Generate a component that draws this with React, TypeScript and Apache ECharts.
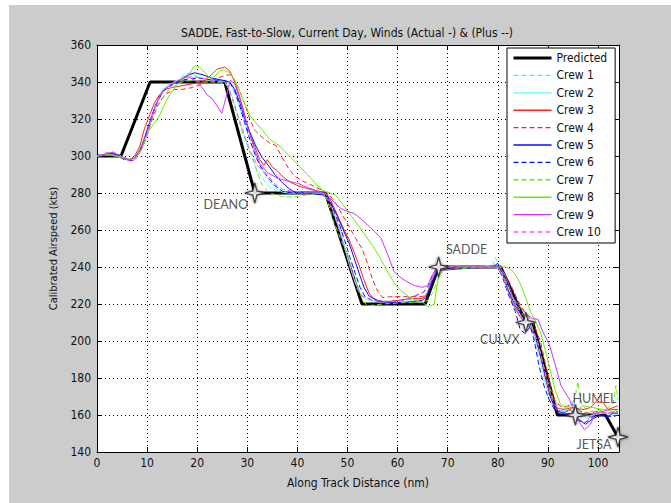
import React, { useEffect, useRef } from "react";
import * as echarts from "echarts";

// ---- texts ----
const TITLE = "SADDE, Fast-to-Slow, Current Day, Winds (Actual -) & (Plus --)";
const X_LABEL = "Along Track Distance (nm)";
const Y_LABEL = "Calibrated Airspeed (kts)";

// ---- axes ----
const X_MIN = 0;
const X_MAX = 104.2;
const X_STEP = 10;
const Y_MIN = 140;
const Y_MAX = 360;
const Y_STEP = 20;

// ---- predicted speed profile ----
const predictedX = [0, 4.8, 10.6, 25.5, 31.5, 45.6, 52.9, 65.5, 68.2, 80.6, 85.6, 87, 91.9, 95.5, 101.5, 104];
const predictedY = [300, 300, 340, 340, 280, 280, 220, 220, 240, 240, 210, 210, 160, 160, 160, 148];

// ---- waypoints ----
const waypointNames = ["DEANO", "SADDE", "CULVX", "HUMEL", "JETSA"];
const waypointX = [31.5, 68.2, 85.6, 95.5, 104];
const waypointY = [280, 240, 210, 160, 148];

// ---- crew runs: [distance, airspeed] ----
const crew1 = [[0,300],[2,300.5],[4,300],[5.5,298.5],[7,297.5],[7.8,299],[9,305],[10,314],[11,323],[12,331],[13,336],[14.5,339],[16,341],[17.5,344],[19,345],[20,343],[22,341],[24,340],[25.5,340],[26.5,336],[27.5,328],[28.5,318],[29.5,310],[30.5,302],[31.5,295],[33,288],[34.5,283],[36,281],[38,280],[42,280],[45,280],[46,279],[47,272],[48,264],[49,256],[50,246],[51,236],[52,228],[53,224],[55,222],[58,221.5],[62,222],[65,223],[66,226],[67,236],[68,239],[70,239],[75,240],[79,241],[79.5,245],[80.5,240],[82,230],[83.5,220],[85,212],[86.5,208],[88,196],[89.5,180],[91,167],[92.5,162],[94,163],[95.5,166],[97,160],[99,160],[101,161],[103,161],[104,161]];
const crew2 = [[0,300],[2,301],[4,300],[5.5,298.5],[7,297.5],[8,300],[9,305],[10,313],[11,322],[12,330],[13,335],[14,338],[15.5,340],[17,342],[18.5,345],[20,343],[22,341],[24,341],[26,340],[27,337],[28,330],[29,322],[30,313],[31,305],[32,298],[33,292],[34.5,286],[36,282],[38,280],[42,280],[45.5,280],[46.5,276],[47.5,268],[48.5,260],[49.5,250],[50.5,240],[51.5,232],[52.5,226],[54,222],[57,221],[61,221],[64,222],[65.5,224],[66.5,230],[67.5,237],[68.5,239],[72,239],[76,240],[79,240],[80.5,239],[81.5,232],[82.5,224],[84,214],[85.5,210],[87,205],[88,194],[89,182],[90,172],[91,165],[92.5,161],[94,163],[95,168],[96,162],[97.5,159],[99,160],[101,161],[103,160],[104,160]];
const crew3 = [[0,300],[2,300.5],[4,300],[5.5,299],[6.5,298],[7.5,300],[8.5,305],[9.5,315],[10.5,322],[11.5,329],[12.5,333],[13.5,336],[15,337],[17,338],[19,339],[21,340],[22.5,343],[24,347],[25.5,348],[26.5,346],[27.5,340],[28.5,332],[29.5,322],[30.5,312],[31.5,305],[32.5,298],[33.3,295],[34,298],[35,294],[36,292],[37,289],[38.5,286],[40,284],[42.5,282],[45,280.5],[46.5,277],[47.5,271],[48.5,265],[49.5,259],[50.3,255],[51.3,248],[52.3,241],[53.3,233],[54.3,226],[55.5,222],[57,221],[60,222],[63,223],[65,223],[66,226],[67,234],[68,239],[71,239],[76,240],[80,240],[81,236],[82,228],[83,220],[84.5,213],[86,209],[87.5,203],[88.5,192],[89.5,180],[90.5,170],[91.5,164],[93,163],[95,164],[97,163],[98.5,164],[99.5,167],[101,167],[102,163],[103,164],[104,165]];
const crew4 = [[0,300],[2,301],[4,300],[5.5,298.5],[7,297.5],[8,300],[9,304],[10,311],[11,320],[12,327],[13,331],[14,334],[15.5,336],[17,336],[19,337],[21,339],[23,341],[25,343],[26.5,344],[27.5,341],[28.5,335],[29.5,328],[30.5,320],[31.5,314],[33,310],[34.5,307],[35.7,305.7],[37,299],[38.3,293],[39.5,289],[41,286.5],[43,284],[44.5,282],[46,280],[47,277],[48,273],[49,268],[50.2,262.5],[51.5,256],[52.9,250],[54,242],[54.9,234],[56,227],[57,223.5],[59,224],[62,224],[65,224],[66,226],[67,233],[68,239],[70,239],[75,240],[80,240],[81,238],[82.5,231],[84,222],[85.5,215],[87,210],[88.5,200],[89.5,188],[90.5,176],[91.5,167],[93,164],[95,166],[96.5,162],[98,161],[100,162],[102,161],[103.5,162],[104,162]];
const crew5 = [[0,300],[2,301],[3,301.5],[4.5,300],[5.5,298.5],[6.5,297.5],[7.5,299],[8.5,303],[9.5,310],[10.5,318],[11.5,326],[12.5,332],[13.5,336],[15,339],[16.5,341],[18,343.5],[19.5,345],[21,344],[23,342],[25,341],[26.5,340],[27.5,336],[28.5,329],[29.5,320],[30.5,313],[31.7,305.4],[33,299],[34.3,294.6],[35.5,290],[37,285.6],[38.5,282],[39.7,280.2],[42,280],[45,279],[46.3,276],[47.7,269.2],[49,261],[50.3,253],[51.3,245],[52.3,236.8],[53.3,229],[54.3,224.3],[56,222],[58.3,220.7],[62,221],[65,222],[66,225],[67,233],[68,238],[70,238.5],[75,239.5],[79,240],[80,242],[81,236],[82,228],[83.5,219],[85,213],[86.5,209],[87.5,203],[88.5,193],[89.5,181],[90.5,170],[91.5,163],[93,161],[94.5,163],[96,158],[97.5,155],[99,158],[100.5,160],[102,159],[103,161],[104,161]];
const crew6 = [[0,300],[2,300.5],[4,300],[5.5,298],[7,297.5],[8,300],[9,305],[10,313],[11,322],[12,329],[13,334],[14,337],[15.5,339],[17,341],[19,342],[21,342],[23,341],[25,341],[26.5,340],[27.5,335],[28.5,327],[29.5,318],[30.5,309],[31.5,301],[32.5,295],[34,289],[35.5,284],[37,281],[39,280],[43,280],[45.5,280],[46.5,276],[47.5,269],[48.5,262],[49.5,254],[50.5,245],[51.5,237],[52.5,229],[53.5,224],[55,222],[58,221],[61,222],[63,224],[65,226],[66,229],[67,236],[68,240],[71,239],[76,240],[80,240],[81,234],[82,226],[83.5,216],[84.5,206],[85.5,204],[86.5,208],[87.3,200],[88.2,187],[89.2,176],[90.2,168.6],[91.5,162],[93,160],[94.5,161],[96,157],[97.5,156],[99,159],[101,160],[103,159],[104,160]];
const crew7 = [[0,300],[2,300.5],[4,300],[5.5,298.5],[7,298],[8,300],[9,304],[10,311],[11,319],[12,326],[13,331],[14,335],[15.5,338],[17,340],[19,341],[21,340],[23,340],[25,340],[26,338],[27,331],[28,322],[29,313],[30,306],[31,300],[32,291],[33,284],[34.5,280],[35.7,279],[37,278],[39,277.8],[42,279],[45,280],[46,276],[47,266],[48.5,256],[50.3,244.5],[51.5,234],[53,222],[54,219],[57,220],[60,220.5],[63,221],[65,221],[66,222],[67,226],[68,233],[69,238],[72,239],[77,240],[80,240],[81,236],[82,229],[83.5,221],[85,214],[86.5,210],[88,199],[89,188],[90,178],[91,169],[92.5,163],[94,164],[95.3,168],[96,178],[96.7,166],[98,162],[100,162],[102,164],[103,166],[103.6,176],[104,168]];
const crew8 = [[0,300],[2,301],[4,300],[5.5,299],[7,298],[8,300],[8.9,306],[10,312],[11,316],[12.3,321],[13.5,328],[14.5,333],[15.6,337],[16.5,340],[17.5,342],[18.5,345],[19.6,349],[20.5,348],[21.6,345],[22.5,342],[23.5,343],[24.5,346],[25.3,346.5],[26.5,345],[27.5,341],[28.5,335],[29.5,328],[30.5,322],[31.7,318],[33,314],[34.5,309],[36.3,305.7],[38,301],[40.3,294.9],[42,290],[43.5,285.5],[45,281.4],[46.5,280],[47.7,278.7],[49,274],[50.5,268.5],[51.7,264.3],[53.3,258],[55,251.7],[56.5,245],[58.4,235.5],[59.7,230],[61,226.5],[62.5,223.5],[63.7,222],[65,221],[66,218.5],[67.3,219.7],[68.3,237.8],[69,240],[72,240.5],[77,240],[80,240],[81.5,240],[82.5,239],[83.5,236],[84.5,231],[85.5,224],[86.5,216],[87.5,211],[88.5,205],[89.5,195],[90.5,184],[91.5,173],[92.5,166],[94,163],[95.5,162],[97,165],[99,164],[101,163],[103,162],[104,163]];
const crew9 = [[0,300],[1.5,301],[3,302],[4.5,300.5],[5.5,299],[6.5,298],[7.5,299],[8.5,303],[9.5,309],[10.5,317],[11.5,326],[12.5,332],[13.5,336],[15,339],[16.5,341],[18,343],[19.5,341],[21,337],[22,333],[23,331],[24,327],[24.9,323],[25.7,331],[26.6,341],[27.5,339],[28.5,331],[29.5,321],[30.5,312],[31.5,303],[32.5,296],[34,291],[36,288],[38,286.5],[40.1,285.2],[42,283],[44.1,281],[46,279],[47.3,275],[48.7,271.6],[50,270],[51.3,269],[52.7,266],[54,262.7],[55.5,259],[56.7,255.5],[58,247],[59.3,237.5],[60.3,235],[61.3,233],[63.3,230],[65,229],[66,230],[67,236],[68,240],[71,240],[76,240],[80,240],[81,238],[82,232],[83,224],[84.5,218],[86,214],[87,212],[88,211.8],[89,205],[90.3,198],[91.5,187],[92.6,176],[93.5,172],[94.3,168.6],[95.3,161.4],[96.3,156],[97.3,152],[98.5,155],[99.5,161],[101,162],[102.5,163],[104,163]];
const crew10 = [[0,300],[1.5,301.5],[3,302.5],[4.5,300.5],[5.5,298.5],[7,297],[8,299],[9,304],[10,312],[11,321],[12,329],[13,334],[14,337],[15.5,340],[17,342],[19,343],[21,342],[23,341],[25,340],[26,338],[27,331],[28,323],[29,315],[30,307],[30.7,302],[32,295],[34,289.7],[35.5,285],[37,282],[39,281],[42,280],[45,280],[46,277],[47,270],[48,263],[49,254],[50,245],[51,236],[52,229],[53,224],[55,222],[58,221],[61,222],[64,225],[65.5,227],[66.5,231],[67.5,237],[68.5,240],[72,240],[77,240],[80,240],[81,235],[82,227],[83.5,218],[85,212],[86.5,209],[88,199],[89,188],[90,176],[91,167],[92.5,162],[94,162],[95,166],[96.5,160],[98,158],[100,161],[102,161],[104,162]];

const crewRuns = [crew1, crew2, crew3, crew4, crew5, crew6, crew7, crew8, crew9, crew10];
const crewNames = ["Crew 1", "Crew 2", "Crew 3", "Crew 4", "Crew 5", "Crew 6", "Crew 7", "Crew 8", "Crew 9", "Crew 10"];

// ---- styling ----
const crewColors = ["#55eeff", "#7ff4ff", "#ff2222", "#ff2222", "#0a0aff", "#0a0aff", "#66f000", "#66f000", "#cc33ff", "#ff55ff"];
const crewDashed = [true, false, false, true, false, true, true, false, false, true];
const AXIS_FONT = "'Liberation Sans Narrow', 'DejaVu Sans Condensed', 'Liberation Sans', Arial, sans-serif";
const MARK_FONT = "Lato, 'Open Sans', sans-serif";
const STAR = "path://M0,-10 L2,-2 L10,0 L2,2 L0,10 L-2,2 L-10,0 L-2,-2 Z";
const labelOffsets: Record<string, [number, number]> = {
  DEANO: [-29, 11],
  SADDE: [28, -18],
  CULVX: [-26, 17],
  HUMEL: [19, -17],
  JETSA: [-24, 7],
};

const GRID = { left: 97, top: 45, right: 52, bottom: 51 };
const HIDDEN = "rgba(0,0,0,0)";

function buildOption() {
  const dotted = { type: [1, 3] as number[], color: "#000", width: 1 };
  const lineSeries: any[] = [
    {
      name: "Predicted",
      type: "line",
      data: predictedX.map((x, i) => [x, predictedY[i]]),
      showSymbol: false,
      symbol: "none",
      lineStyle: { color: "#000", width: 3 },
      itemStyle: { color: HIDDEN },
      z: 2,
    },
  ];
  crewRuns.forEach((run, i) => {
    lineSeries.push({
      name: crewNames[i],
      type: "line",
      data: run,
      showSymbol: false,
      symbol: "none",
      lineStyle: {
        color: crewColors[i],
        width: 1,
        type: crewDashed[i] ? [5, 3] : "solid",
      },
      itemStyle: { color: HIDDEN },
      z: 3,
    });
  });

  const waypointSeries = {
    name: "waypoints",
    type: "scatter",
    data: waypointNames.map((n, i) => ({ name: n, value: [waypointX[i], waypointY[i]] })),
    symbol: STAR,
    symbolSize: 20,
    clip: false,
    z: 5,
    itemStyle: {
      color: "#ffffff",
      borderColor: "#1a1a1a",
      borderWidth: 1.2,
      shadowBlur: 3,
      shadowColor: "rgba(0,0,0,0.6)",
    },
    label: {
      show: true,
      position: "inside",
      formatter: (p: any) => p.name,
      fontFamily: MARK_FONT,
      fontSize: 12.5,
      color: "#2a2a2a",
    },
    labelLayout: (p: any) => {
      const name = waypointNames[p.dataIndex];
      const off = labelOffsets[name];
      return { dx: off[0], dy: off[1] };
    },
  };

  return {
    animation: false,
    backgroundColor: "#ffffff",
    textStyle: { fontFamily: AXIS_FONT },
    graphic: [
      {
        type: "rect",
        shape: { x: 9, y: 5, width: 662, height: 498 },
        style: { fill: "#cccccc" },
        z: -10,
        silent: true,
      },
      {
        type: "text",
        x: 347,
        y: 33,
        style: {
          text: TITLE,
          fontFamily: AXIS_FONT,
          fontSize: 12,
          fill: "#111",
          textAlign: "center",
          textVerticalAlign: "middle",
        },
        z: 10,
      },
    ],
    grid: {
      ...GRID,
      show: true,
      backgroundColor: "#ffffff",
      borderWidth: 0,
      containLabel: false,
    },
    legend: {
      orient: "vertical",
      left: 507,
      top: 48,
      data: [
        { name: "Predicted", lineStyle: { width: 3 } },
        ...crewNames.map((n) => ({ name: n, lineStyle: { width: 1.4 } })),
      ],
      itemWidth: 38,
      itemHeight: 10,
      itemGap: 3.4,
      padding: [3, 8, 4, 5],
      backgroundColor: "#ffffff",
      borderColor: "#000",
      borderWidth: 1,
      borderRadius: 0,
      selectedMode: false,
      itemStyle: { color: HIDDEN, borderWidth: 0, opacity: 0 },
      lineStyle: { width: "inherit" },
      textStyle: { fontFamily: AXIS_FONT, fontSize: 12, color: "#111", lineHeight: 14 },
    },
    xAxis: [
      {
        type: "value",
        min: X_MIN,
        max: X_MAX,
        interval: X_STEP,
        name: X_LABEL,
        nameLocation: "middle",
        nameGap: 25,
        nameTextStyle: { fontFamily: AXIS_FONT, fontSize: 12, color: "#111" },
        axisLine: { show: true, onZero: false, lineStyle: { color: "#000", width: 1 } },
        axisTick: { show: true, inside: true, length: 5, lineStyle: { color: "#000" } },
        axisLabel: {
          fontFamily: AXIS_FONT,
          fontSize: 12,
          color: "#111",
          margin: 5,
          showMaxLabel: false,
          formatter: (v: number) => (Math.abs(v % X_STEP) < 1e-6 ? String(v) : ""),
        },
        splitLine: { show: true, lineStyle: dotted },
      },
      {
        type: "value",
        position: "top",
        min: X_MIN,
        max: X_MAX,
        interval: X_STEP,
        axisLine: { show: true, onZero: false, lineStyle: { color: "#000", width: 1 } },
        axisTick: { show: true, inside: true, length: 5, lineStyle: { color: "#000" } },
        axisLabel: { show: false },
        splitLine: { show: false },
      },
    ],
    yAxis: [
      {
        type: "value",
        min: Y_MIN,
        max: Y_MAX,
        interval: Y_STEP,
        name: Y_LABEL,
        nameLocation: "middle",
        nameGap: 29,
        nameTextStyle: { fontFamily: AXIS_FONT, fontSize: 11, color: "#111" },
        axisLine: { show: true, onZero: false, lineStyle: { color: "#000", width: 1 } },
        axisTick: { show: true, inside: true, length: 5, lineStyle: { color: "#000" } },
        axisLabel: { fontFamily: AXIS_FONT, fontSize: 12, color: "#111", margin: 6 },
        splitLine: { show: true, lineStyle: dotted },
      },
      {
        type: "value",
        position: "right",
        min: Y_MIN,
        max: Y_MAX,
        interval: Y_STEP,
        axisLine: { show: true, onZero: false, lineStyle: { color: "#000", width: 1 } },
        axisTick: { show: true, inside: true, length: 5, lineStyle: { color: "#000" } },
        axisLabel: { show: false },
        splitLine: { show: false },
      },
    ],
    series: [...lineSeries, waypointSeries],
  };
}

export default function App() {
  const ref = useRef<HTMLDivElement>(null);
  useEffect(() => {
    if (!ref.current) return;
    const chart = echarts.init(ref.current, null, { renderer: "svg" });
    chart.setOption(buildOption() as any);
    return () => chart.dispose();
  }, []);
  return (
    <div
      ref={ref}
      style={{ position: "absolute", left: 0, top: 0, width: 671, height: 503 }}
    />
  );
}
